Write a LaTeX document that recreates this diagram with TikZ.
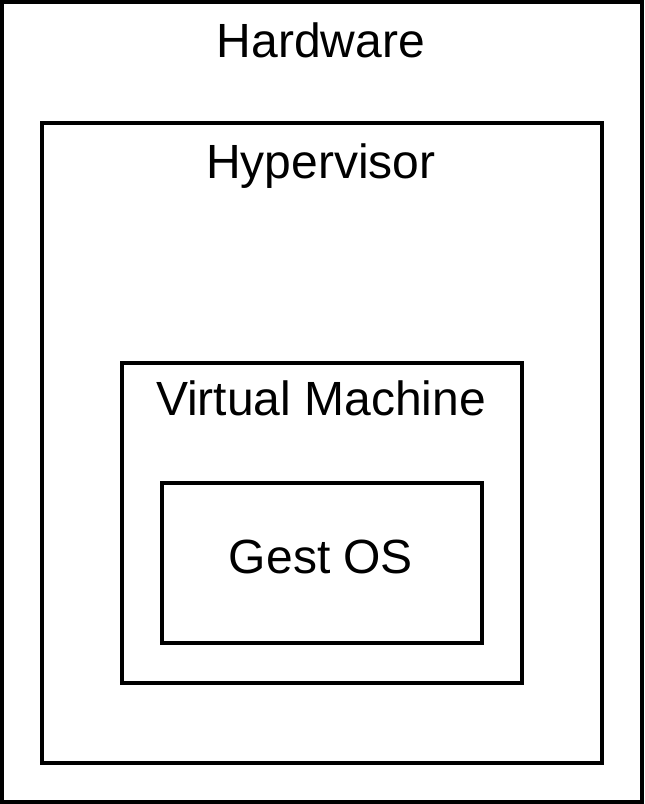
\documentclass[tikz,border=0pt]{standalone}
\usepackage{fontspec}
\setmainfont{Liberation Sans}
\tikzset{
    box/.style={draw, line width=1.8pt, rectangle, inner sep=0pt},
    title/.style={anchor=base, font=\fontsize{24}{28}\selectfont, inner sep=0pt}
}
\begin{document}
\begin{tikzpicture}[x=0.5pt, y=-0.5pt]
            \useasboundingbox (0,0) rectangle (644,804);
            \node [box, minimum width=320pt, minimum height=400pt] (hardware) at(322,402) {};
            \node [box, minimum width=280pt, minimum height=320pt] (hypervisor) at(322,443) {};
            \node [box, minimum width=200pt, minimum height=160pt] (vm) at(322,523) {};
            \node [box, minimum width=160pt, minimum height=80pt] (guest) at(322,563) {};
            \node [title] (hardwaretext) at(321,57) {Hardware};
            \node [title] (hypervisortext) at(321,178) {Hypervisor};
            \node [title] (vmtext) at(321,415) {Virtual Machine};
            \node [title] (guesttext) at(321,573) {Gest OS};
        \end{tikzpicture}
\end{document}
